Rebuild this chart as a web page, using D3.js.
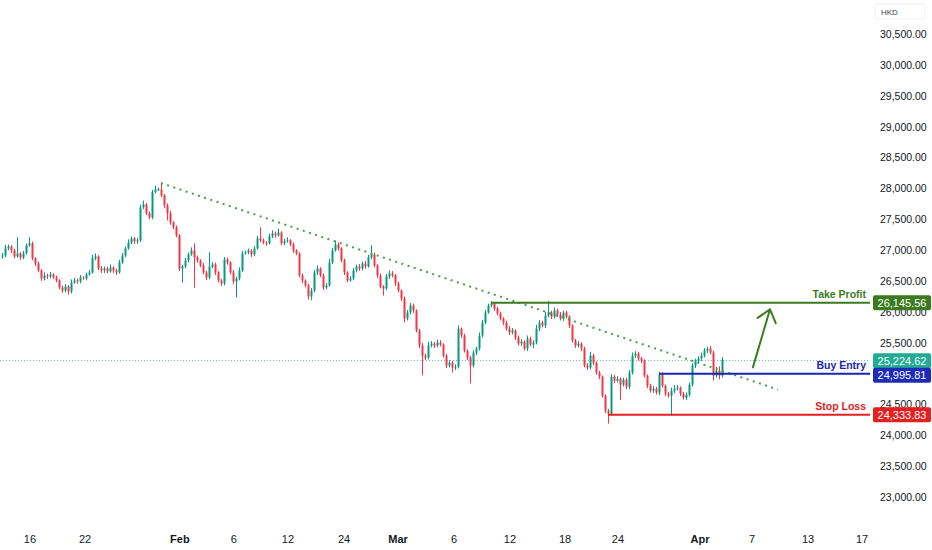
<!DOCTYPE html>
<meta charset="utf-8">
<body>
<script src="https://cdn.jsdelivr.net/npm/d3@7"></script>
<style>
    html, body {
        margin: 0;
        background: #fff;
    }
    text {
        font-family: "Liberation Sans", Arial, sans-serif;
    }
</style>
<script>
// closing prices, one per bar (open = previous close)
var closes = [
    26913,27027,27059,26994,26897,26946,26881,26946,27076,27108,
    26865,26783,26670,26540,26589,26572,26605,26556,26507,26394,
    26345,26410,26329,26475,26507,26491,26556,26540,26605,26637,
    26865,26897,26702,26670,26702,26653,26718,26670,26637,26800,
    26913,27027,27124,27189,27140,27157,27692,27741,27595,27530,
    27936,27984,27984,27887,27725,27595,27449,27368,27238,26702,
    26735,26832,26929,26994,26881,26832,26751,26637,26556,26735,
    26767,26637,26507,26459,26848,26800,26637,26491,26540,26670,
    26946,26962,26994,26929,27027,27189,27157,27124,27108,27222,
    27270,27238,27286,27108,27140,27157,27092,26994,26946,26589,
    26507,26426,26248,26345,26637,26702,26589,26394,26426,26800,
    26994,27092,27027,26832,26637,26507,26540,26670,26735,26702,
    26783,26735,26881,26929,26751,26589,26410,26378,26572,26621,
    26589,26459,26345,26215,25891,25988,26102,26020,25696,25453,
    25290,25258,25453,25485,25453,25501,25469,25290,25128,25177,
    25096,25112,25728,25615,25371,25258,25128,25339,25404,25615,
    25826,25988,26102,26134,26053,25972,25891,25826,25728,25664,
    25696,25583,25485,25518,25404,25566,25469,25501,25728,25826,
    25777,25939,25988,25923,26020,25956,25891,25988,25923,25777,
    25534,25453,25485,25404,25128,25096,25290,25177,25014,24949,
    24641,24398,24349,24949,24884,24917,24819,24901,24787,25014,
    25290,25323,25242,25209,24966,24803,24722,24754,24690,24990,
    24803,24673,24641,24722,24754,24771,24673,24609,24657,24819,
    25128,25209,25242,25290,25371,25404,25339,24966,25047,24966,
    25224.62
];
var firstOpen = 26900;

// wick length above / below the body, in points
var wickUp = [
    40,60,30,20,30,260,20,40,30,100,
    30,20,30,20,50,30,40,20,30,20,
    30,40,20,50,40,30,40,20,30,40,
    60,50,20,40,30,30,50,20,30,40,
    40,30,50,30,20,40,40,60,20,30,
    40,60,30,115,20,30,40,20,30,20,
    30,40,30,50,115,30,20,40,30,230,
    40,30,20,30,40,30,20,40,30,50,
    40,30,30,20,40,40,180,30,20,40,
    50,30,60,20,40,50,20,30,20,20,
    30,20,30,40,40,50,20,30,40,60,
    40,60,30,20,30,20,40,40,30,40,
    30,40,40,150,30,20,30,20,40,50,
    40,20,30,20,30,40,40,30,20,30,
    40,30,60,40,30,50,40,20,30,40,
    30,40,50,20,30,20,30,40,30,50,
    40,40,30,40,20,30,30,20,30,40,
    40,20,30,40,20,50,30,40,60,40,
    30,60,190,30,50,30,40,30,30,20,
    20,30,40,20,30,40,60,30,20,30,
    20,20,30,40,30,40,20,30,30,40,
    50,40,30,30,20,20,30,40,30,40,
    30,20,30,50,60,40,20,30,40,30,
    40,30,40,50,40,30,40,30,60,70,
    40
];
var wickDown = [
    40,30,30,40,30,20,40,30,20,20,
    30,40,30,40,30,40,30,20,30,30,
    40,30,50,30,20,40,30,20,30,20,
    20,30,30,40,40,30,20,40,40,20,
    20,30,20,30,40,40,30,30,30,30,
    30,20,30,30,40,115,40,30,30,40,
    230,30,30,20,490,40,30,30,40,30,
    30,40,30,40,30,40,30,40,260,30,
    30,20,30,40,30,20,30,30,40,20,
    30,40,20,30,30,20,30,40,30,30,
    40,30,50,60,30,40,30,40,30,20,
    30,20,40,30,40,30,20,30,30,40,
    30,40,20,30,30,40,30,115,30,40,
    30,40,30,40,60,30,30,40,30,40,
    320,40,30,30,40,30,30,30,40,30,
    80,40,30,40,30,40,290,30,40,30,
    30,30,20,30,40,30,30,40,30,40,
    30,40,30,40,30,40,30,60,30,40,
    30,40,30,40,30,40,30,40,30,40,
    30,40,30,40,30,40,30,40,30,40,
    30,40,160,30,40,30,250,30,40,40,
    30,40,30,40,30,40,30,40,30,40,
    30,40,30,320,40,30,40,30,40,30,
    30,40,30,40,30,40,30,80,30,60,
    30
];

var timeLabels = ["16", "22", "Feb", "6", "12", "24", "Mar", "6", "12", "18", "24", "Apr", "7", "13", "17"];
var timeBars = [9.3, 27.7, 59.3, 77.3, 95.3, 114, 132, 150.7, 169.3, 187.7, 205.3, 232.7, 250, 268.7, 286.7];
var monthLabels = ["Feb", "Mar", "Apr"];

var priceTicks = [23000, 23500, 24000, 24500, 25500, 26000, 26500, 27000, 27500, 28000, 28500, 29000, 29500, 30000, 30500];

var levelNames = ["Take Profit", "Buy Entry", "Stop Loss"];
var levelPrices = [26145.56, 24995.81, 24333.83];
var levelStartBars = [163, 219, 202];
var lastPrice = 25224.62;

var trendBars = [53, 258.7],
    trendPrices = [28085, 24740];
var arrowBars = [250.3, 256],
    arrowPrices = [25100, 26040];

var width = 932,
    height = 550,
    plotRight = 870;

var up = "#089981",
    down = "#f23645",
    levelColors = ["#3b7a1e", "#1a26b0", "#e3201f"],
    levelText = ["#3b7a1e", "#1a26b0", "#e3201f"];

var x = d3.scaleLinear().domain([0, 240]).range([2, 722]);
var y = d3.scaleLinear().domain([23000, 30500]).range([497, 34]);

var candles = closes.map(function(c, i) {
    var o = i ? closes[i - 1] : firstOpen;
    return {
        i: i, o: o, c: c,
        h: Math.max(o, c) + wickUp[i],
        l: Math.min(o, c) - wickDown[i]
    };
});

var svg = d3.select("body").append("svg")
    .attr("width", width)
    .attr("height", height)
    .style("display", "block")
    .style("background", "#fff");

// current price dotted line
svg.append("line")
    .attr("x1", 0).attr("x2", plotRight)
    .attr("y1", Math.round(y(lastPrice)) + 0.5).attr("y2", Math.round(y(lastPrice)) + 0.5)
    .attr("stroke", "#22ab94")
    .attr("stroke-opacity", 0.7)
    .attr("stroke-dasharray", "1,2");

// candles
var bar = svg.append("g").selectAll("g")
    .data(candles)
    .enter().append("g")
    .attr("fill", function(d) { return d.c >= d.o ? up : down; })
    .attr("stroke", function(d) { return d.c >= d.o ? up : down; });

bar.append("line")
    .attr("x1", function(d) { return Math.round(x(d.i)) + 0.5; })
    .attr("x2", function(d) { return Math.round(x(d.i)) + 0.5; })
    .attr("y1", function(d) { return y(d.h); })
    .attr("y2", function(d) { return y(d.l); })
    .attr("stroke-width", 1);

bar.append("rect")
    .attr("stroke", "none")
    .attr("x", function(d) { return Math.round(x(d.i)) - 0.5; })
    .attr("width", 2)
    .attr("y", function(d) { return y(Math.max(d.o, d.c)); })
    .attr("height", function(d) { return Math.max(1, Math.abs(y(d.o) - y(d.c))); });

// dotted trend line
svg.append("line")
    .attr("x1", x(trendBars[0])).attr("y1", y(trendPrices[0]))
    .attr("x2", x(trendBars[1])).attr("y2", y(trendPrices[1]))
    .attr("stroke", "#43a047")
    .attr("stroke-width", 2)
    .attr("stroke-dasharray", "2,4.5");

// level lines and their labels
levelPrices.forEach(function(p, k) {
    var ly = y(p);
    svg.append("line")
        .attr("x1", x(levelStartBars[k])).attr("x2", plotRight)
        .attr("y1", ly).attr("y2", ly)
        .attr("stroke", levelColors[k])
        .attr("stroke-width", 2);
    svg.append("text")
        .attr("x", 866)
        .attr("y", ly - 4.5)
        .attr("text-anchor", "end")
        .attr("font-size", 10.5)
        .attr("font-weight", "bold")
        .attr("fill", levelText[k])
        .text(levelNames[k]);
});

// arrow
var ax1 = x(arrowBars[0]), ay1 = y(arrowPrices[0]),
    ax2 = x(arrowBars[1]), ay2 = y(arrowPrices[1]),
    ang = Math.atan2(ay1 - ay2, ax1 - ax2),
    headLen = 15, spread = 0.68;
svg.append("path")
    .attr("d", "M" + [ax1, ay1] + "L" + [ax2, ay2] +
        "M" + [ax2 + headLen * Math.cos(ang - spread), ay2 + headLen * Math.sin(ang - spread)] +
        "L" + [ax2, ay2] +
        "L" + [ax2 + headLen * Math.cos(ang + spread), ay2 + headLen * Math.sin(ang + spread)])
    .attr("fill", "none")
    .attr("stroke", "#3b7a1e")
    .attr("stroke-width", 2)
    .attr("stroke-linecap", "round")
    .attr("stroke-linejoin", "round");

// price axis
svg.append("g").selectAll("text")
    .data(priceTicks)
    .enter().append("text")
    .attr("x", 880)
    .attr("y", function(d) { return y(d) + 4; })
    .attr("font-size", 10.5)
    .attr("fill", "#131722")
    .text(function(d) { return d3.format(",.2f")(d); });

// price label boxes
var boxes = [
    { v: levelPrices[0], cy: y(levelPrices[0]), fill: levelColors[0] },
    { v: lastPrice, cy: y(lastPrice) + 1, fill: "#22ab94" },
    { v: levelPrices[1], cy: y(levelPrices[1]) + 1.5, fill: "#1c2bb8" },
    { v: levelPrices[2], cy: y(levelPrices[2]), fill: "#e3201f" }
];
var box = svg.append("g").selectAll("g")
    .data(boxes)
    .enter().append("g");
box.append("rect")
    .attr("x", 873).attr("width", 58)
    .attr("y", function(d) { return d.cy - 7.5; })
    .attr("height", 15)
    .attr("rx", 2)
    .attr("fill", function(d) { return d.fill; });
box.append("text")
    .attr("x", 902)
    .attr("y", function(d) { return d.cy + 4; })
    .attr("text-anchor", "middle")
    .attr("font-size", 11)
    .attr("fill", "#fff")
    .text(function(d) { return d3.format(",.2f")(d.v); });

// currency tag
svg.append("rect")
    .attr("x", 875).attr("y", 4).attr("width", 50).attr("height", 15)
    .attr("rx", 2)
    .attr("fill", "#fff")
    .attr("stroke", "#eef0f4");
svg.append("text")
    .attr("x", 881).attr("y", 15)
    .attr("font-size", 8)
    .attr("fill", "#434651")
    .text("HKD");

// time axis
svg.append("g").selectAll("text")
    .data(timeLabels)
    .enter().append("text")
    .attr("x", function(d, i) { return x(timeBars[i]); })
    .attr("y", 543)
    .attr("text-anchor", "middle")
    .attr("font-size", 11)
    .attr("font-weight", function(d) { return monthLabels.indexOf(d) >= 0 ? "bold" : "normal"; })
    .attr("fill", "#131722")
    .text(function(d) { return d; });
</script>
